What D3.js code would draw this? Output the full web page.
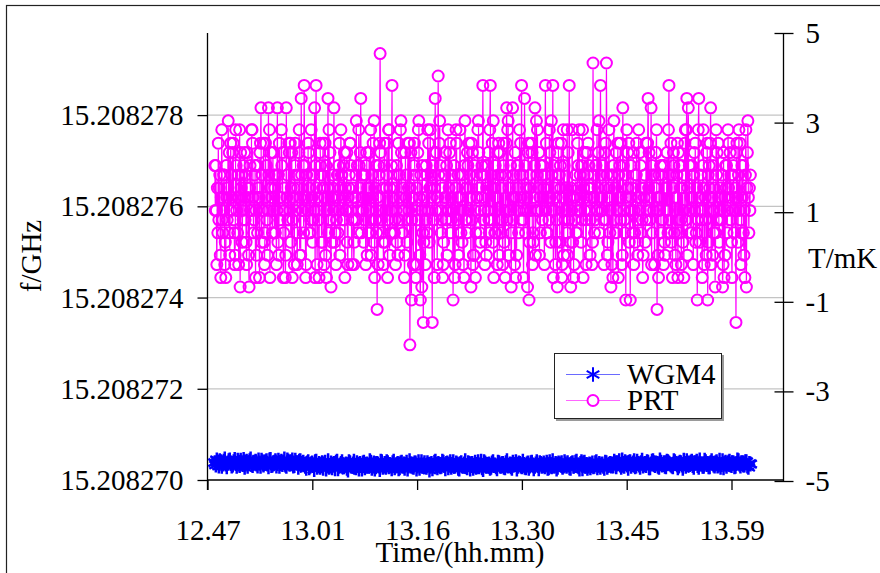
<!DOCTYPE html>
<html><head><meta charset="utf-8">
<script src="https://cdn.jsdelivr.net/npm/d3@7"></script>
<style>
html,body{margin:0;padding:0;background:#fff;}
svg{display:block;}
text{font-family:"Liberation Serif","Times New Roman",serif;fill:#000;}
</style>
</head><body>
<svg id="chart" width="880" height="573"></svg>
<script>
// ---- data ----
const xTickLabels = ["12.47","13.01","13.16","13.30","13.45","13.59"];
const leftTicks = [15.208270, 15.208272, 15.208274, 15.208276, 15.208278];
const rightTicks = [-5, -3, -1, 1, 3, 5];
// sampling window expressed in x-tick intervals (first/last sample)
const timeStart = 0.07, timeEnd = 5.18;
const seriesNames = ["WGM4", "PRT"];

// PRT temperature, mK (right axis)
const prtT = [
2.04,1.04,2.04,1.04,-0.17,1.54,0.54,2.54,0.83,1.54,1.83,0.04,-0.46,1.33,2.84,0.83,0.54,1.04,1.83,1.83,-0.17,0.33,-0.46,2.04,1.33,0.83,1.54,3.04,0.54,2.33,0.04,1.04,2.54,1.04,1.83,1.33,2.33,2.54,0.83,0.54,-0.17,0.04,2.84,2.04,1.04,1.33,0.54,1.83,-0.17,1.33,2.84,-0.67,2.33,1.54,1.83,0.33,1.04,0.83,2.04,1.33,
2.33,0.83,1.83,0.33,-0.17,2.33,1.54,1.33,0.04,-0.67,1.54,2.04,1.04,1.04,2.84,2.84,2.54,1.33,0.54,0.83,1.83,2.04,-0.46,1.04,0.04,2.04,0.54,1.33,1.54,1.33,-0.46,2.33,2.54,3.33,0.33,1.83,1.04,1.04,2.54,0.33,-0.17,0.54,2.54,1.33,2.04,0.83,0.04,1.04,3.33,1.83,2.84,-0.46,1.54,2.33,1.54,1.33,0.54,2.33,1.04,1.83,
0.54,1.54,0.54,1.83,-0.17,1.04,3.33,0.33,1.83,0.04,2.54,0.83,1.33,1.33,2.84,2.04,2.33,1.04,-0.46,0.54,1.54,1.04,-0.46,0.04,3.33,1.33,1.83,0.83,0.83,2.54,2.33,1.04,2.54,0.33,1.54,2.33,-0.46,0.83,1.33,1.54,-0.17,2.04,2.54,1.83,1.04,0.54,-0.17,1.54,1.83,2.33,2.84,0.04,1.33,0.04,3.54,1.83,1.04,1.04,2.04,0.54,
3.83,2.04,1.33,-0.46,-0.17,1.83,1.33,1.04,2.54,2.33,0.54,1.54,0.54,0.83,2.84,1.83,1.33,0.33,0.83,1.83,1.04,3.33,-0.46,2.04,3.83,1.54,-0.17,1.04,1.33,0.83,-0.46,2.33,2.54,2.04,1.83,0.33,0.33,1.54,2.54,1.54,-0.17,1.33,2.54,0.04,2.04,-0.46,1.04,1.54,3.54,0.54,2.84,0.83,2.33,0.83,-0.67,1.33,0.33,1.83,1.54,1.04,
3.33,0.33,1.33,0.54,-0.17,0.83,1.33,1.83,0.54,2.04,1.04,2.54,0.04,1.54,2.84,1.83,1.83,1.33,0.83,2.04,0.83,2.33,-0.46,1.54,1.04,1.04,2.33,0.33,-0.17,1.33,1.54,1.83,2.54,2.54,2.04,1.04,-0.17,0.83,1.54,1.33,-0.17,0.33,0.83,1.33,1.83,3.04,0.83,2.04,0.54,1.04,2.84,2.04,1.54,2.33,3.54,0.54,1.33,1.04,1.83,1.04,
0.33,1.83,0.83,1.83,-0.17,2.04,2.33,0.04,1.54,0.54,1.04,2.33,1.54,0.54,2.84,0.04,0.83,1.83,1.33,2.54,0.33,3.04,-0.46,1.54,0.83,2.04,0.54,-1.17,1.33,-0.17,2.04,1.83,2.54,4.54,2.33,0.83,1.04,0.54,1.54,0.33,-0.17,2.04,2.54,0.33,1.04,1.54,1.83,2.54,-0.46,0.83,2.84,2.84,0.04,1.54,0.54,1.04,2.04,3.83,0.54,1.33,
1.33,1.54,0.54,0.83,-0.17,1.04,2.04,0.33,1.83,0.04,2.54,0.83,1.83,1.33,2.84,3.04,2.33,1.04,0.54,0.54,1.54,1.04,-0.46,0.04,2.33,1.33,1.83,0.33,0.83,2.54,1.54,1.04,2.54,-1.96,1.54,2.33,-0.96,0.83,1.33,1.33,-0.17,2.04,2.54,1.83,1.04,-0.46,-0.17,1.54,0.83,2.33,2.84,3.04,1.33,0.04,-0.96,1.83,1.04,-0.67,2.04,0.54,
-1.46,0.33,1.33,1.04,-0.17,0.83,2.04,1.83,0.54,2.84,1.04,2.54,0.33,1.54,2.84,1.54,1.83,1.33,-1.46,2.04,0.83,0.83,-0.46,1.54,3.54,1.04,2.33,1.33,-0.17,1.33,4.04,1.83,2.54,3.04,2.04,1.04,0.54,0.83,1.54,-0.46,-0.17,0.33,1.83,1.33,1.83,2.33,0.83,2.04,0.04,1.04,2.84,1.04,1.54,2.33,2.54,0.54,1.33,0.83,1.83,1.04,
-0.96,1.04,2.04,-0.46,-0.17,1.54,2.84,2.54,0.83,1.33,1.83,0.04,0.54,1.33,2.84,1.83,0.54,1.04,0.33,1.83,-0.17,1.04,-0.46,2.04,3.04,0.83,1.54,0.83,0.54,2.33,2.04,1.04,2.54,1.54,1.83,1.33,-0.67,2.54,0.83,2.33,-0.17,0.04,0.04,2.04,1.04,-0.46,0.54,1.83,1.33,1.33,2.84,3.04,2.33,1.54,0.54,0.33,1.04,1.83,2.04,1.33,
3.83,1.83,0.83,1.04,-0.17,2.04,0.33,0.04,1.54,2.04,1.04,2.33,0.83,0.54,2.84,3.83,0.83,1.83,1.54,2.54,0.33,3.04,-0.46,1.54,0.54,2.04,0.54,1.33,1.33,-0.17,2.33,1.83,2.54,0.04,2.33,0.83,1.83,0.54,1.54,0.83,-0.17,2.04,2.54,0.33,1.04,-0.46,1.83,2.54,3.33,0.83,2.84,3.04,0.04,1.54,1.04,1.04,2.04,-0.67,0.54,1.33,
3.33,0.83,1.83,1.33,-0.17,2.33,-0.46,1.33,0.04,2.04,1.54,2.04,0.54,1.04,2.84,1.83,2.54,1.33,3.83,0.83,1.83,0.83,-0.46,1.04,3.54,2.04,0.54,1.04,1.54,1.33,-0.67,2.33,2.54,-0.96,0.33,1.83,1.54,1.04,2.54,2.33,-0.17,0.54,0.33,1.33,2.04,3.33,0.04,1.04,3.04,1.83,2.84,1.04,1.54,2.33,0.04,1.33,0.54,2.04,1.04,1.83,
0.83,2.04,1.33,1.54,-0.17,1.83,3.83,1.04,2.54,0.54,0.54,1.54,1.33,0.83,2.84,2.33,1.33,0.33,3.04,1.83,1.04,3.83,-0.46,2.04,1.04,1.54,-0.17,0.33,1.33,0.83,-0.67,2.33,2.54,1.83,1.83,0.33,2.04,1.54,2.54,-0.46,-0.17,1.33,2.84,0.04,2.04,0.83,1.04,1.54,1.54,0.54,2.84,0.04,2.33,0.83,3.83,1.33,0.33,-0.67,1.54,1.04,
2.84,0.33,1.33,-0.46,-0.17,0.83,1.33,1.83,0.54,0.54,1.04,2.54,2.04,1.54,2.84,1.04,1.83,1.33,0.33,2.04,0.83,2.84,-0.46,1.54,1.83,1.04,2.33,0.83,-0.17,1.33,2.33,1.83,2.54,1.54,2.04,1.04,0.04,0.83,1.54,1.33,-0.17,0.33,4.33,1.33,1.83,0.54,0.83,2.04,2.04,1.04,2.84,1.04,1.54,2.33,3.04,0.54,1.33,3.83,1.83,1.04,
1.33,1.04,2.04,0.83,-0.17,1.54,2.33,2.54,0.83,4.33,1.83,0.04,0.33,1.33,2.84,1.54,0.54,1.04,-0.67,1.83,-0.17,1.83,-0.46,2.04,3.04,0.83,1.54,0.54,0.54,2.33,1.04,1.04,2.54,-0.46,1.83,1.33,2.04,2.54,0.83,1.33,-0.17,0.04,3.33,2.04,1.04,0.83,0.54,1.83,-0.96,1.33,2.84,1.54,2.33,1.54,2.54,0.33,1.04,-0.96,2.04,1.33,
1.04,1.54,0.54,2.33,-0.17,1.04,0.54,0.33,1.83,1.83,2.54,0.83,0.04,1.33,2.84,1.33,2.33,1.04,2.04,0.54,1.54,0.83,-0.46,0.04,1.54,1.33,1.83,0.33,0.83,2.54,2.54,1.04,2.54,3.54,1.54,2.33,1.04,0.83,1.33,3.33,-0.17,2.04,0.54,1.83,1.04,1.83,-0.17,1.54,2.33,2.33,2.84,-1.17,1.33,0.04,-0.46,1.83,1.04,1.33,2.04,0.54,
0.83,1.83,0.83,2.04,-0.17,2.04,0.33,0.04,1.54,1.54,1.04,2.33,1.04,0.54,2.84,3.83,0.83,1.83,0.54,2.54,0.33,1.83,-0.46,1.54,2.33,2.04,0.54,0.04,1.33,-0.17,1.33,1.83,2.54,-0.46,2.33,0.83,2.04,0.54,1.54,0.83,-0.17,2.04,1.54,0.33,1.04,-0.46,1.83,2.54,2.84,0.83,2.84,3.54,0.04,1.54,3.33,1.04,2.04,1.04,0.54,1.33,
0.54,2.04,1.33,1.83,-0.17,1.83,2.33,1.04,2.54,0.33,0.54,1.54,-0.96,0.83,2.84,3.54,1.33,0.33,1.33,1.83,1.04,0.83,-0.46,2.04,2.84,1.54,-0.17,1.54,1.33,0.83,0.04,2.33,2.54,-0.96,1.83,0.33,2.04,1.54,2.54,3.33,-0.17,1.33,1.04,0.04,2.04,0.54,1.04,1.54,-0.67,0.54,2.84,1.83,2.33,0.83,2.54,1.33,0.33,0.83,1.54,1.04,
1.33,0.83,1.83,-0.67,-0.17,2.33,-0.46,1.33,0.04,2.04,1.54,2.04,0.54,1.04,2.84,1.54,2.54,1.33,2.33,0.83,1.83,0.33,-0.46,1.04,1.83,2.04,0.54,1.04,1.54,1.33,-1.46,2.33,2.54,1.33,0.33,1.83,2.84,1.04,2.54,0.83,-0.17,0.54,2.04,1.33,2.04,0.54,0.04,1.04,-0.46,1.83,2.84,-0.67,1.54,2.33,3.04,1.33,0.54,1.54,1.04,1.83
];

// WGM4 resonance frequency: offset above 15.208270 GHz, in units of 1e-8 GHz (left axis)
const wgm4Base = 15.208270;
const wgm4Off = [
38,33,44,39,31,42,40,30,35,41,46,35,29,37,42,44,36,31,33,40,45,36,30,43,39,32,43,38,34,45,
28,35,41,30,37,42,46,34,32,39,38,41,35,31,44,37,30,43,40,33,36,40,42,35,29,44,45,32,33,38,
39,42,31,36,43,30,37,41,34,39,46,33,30,44,41,35,35,40,44,31,32,43,38,37,28,41,42,33,36,39,
34,30,26,37,40,27,30,35,37,32,23,40,41,28,32,36,28,33,38,26,
35,39,24,31,42,28,31,37,27,34,36,25,39,41,25,30,33,36,40,29,
29,33,35,26,22,40,38,31,31,35,41,28,27,38,34,24,36,32,24,37,
39,27,30,35,33,30,42,39,26,33,37,24,29,36,35,31,23,41,40,28,
32,36,28,40,38,29,34,31,25,38,41,27,31,34,36,25,27,37,39,32,
30,26,33,39,24,31,42,35,35,29,28,37,37,24,31,40,26,33,40,30,
33,38,29,28,38,34,22,30,36,25,32,39,41,31,27,36,34,29,30,41,
39,32,25,36,37,27,33,40,28,34,40,30,31,37,35,26,24,33,38,31,
30,35,42,29,27,38,36,24,32,36,26,31,39,28,34,40,29,33,41,27,
23,40,37,30,31,34,35,26,28,37,40,32,33,29,25,39,38,31,30,35,
36,28,27,38,42,31,32,35,29,26,39,33,34,40,24,30,37,36,31,29,
41,34,28,27,35,37,26,31,38,39,33,25,30,35,40,32,25,38,36,30,
32,37,29,33,39,26,27,40,34,29,42,31,31,36,24,28,37,34,35,38,
28,31,40,35,30,38,33,27,26,36,38,30,32,39,41,33,29,24,36,40,
25,37,39,30,34,26,31,35,27,32,37,29,30,38,40,27,33,36,28,33,
35,30,26,39,38,28,32,34,36,31,
35,31,41,38,29,35,38,42,33,28,44,36,30,40,37,33,26,39,40,30,
34,37,42,29,31,41,36,33,28,38,43,31,35,36,32,40,39,27,27,35,
41,42,34,32,37,36,30,28,44,39,33,34,38,30,29,41,40,37,35,33,
31,29,42,40,36,35,27,31,39,38,33,26,43,36,30,42,37,33,34,39,
41,32,28,37,38,41,32,28,44,35,35,30,30,43,40,34,36,29,29,38,
42,36,33,31,38,40,31,33,43,28,34,42,27,35,39,30,36,39,41,34,
32,38,37,29,30,36,44,42,35,31,38,37,33,33,40,40,31,28,36,35
];
const wgm4F = wgm4Off.map(d => wgm4Base + d * 1e-8);

// ---- drawing ----
const FONT = 29;
const FF = '"Liberation Serif","Times New Roman",serif';
const svg = d3.select("#chart");

svg.append("rect").attr("x", 6.5).attr("y", 5.5).attr("width", 900).attr("height", 600)
  .attr("fill", "none").attr("stroke", "#222").attr("stroke-width", 1.2);

const plotLeft = 207.5, plotRight = 783.5;
const x = d3.scaleLinear().domain([0, xTickLabels.length - 1]).range([207.5, 731.5]);
const yL = d3.scaleLinear().domain([15.208270, 15.2082798]).range([480, 33]);
const yR = d3.scaleLinear().domain([-5, 5]).range([481, 33]);

// gridlines (left axis)
svg.append("g").selectAll("line").data(leftTicks.slice(1)).join("line")
  .attr("x1", plotLeft).attr("x2", plotRight)
  .attr("y1", d => yL(d)).attr("y2", d => yL(d))
  .attr("stroke", "#c4c4c4").attr("stroke-width", 1.3);

function styleText(sel) {
  sel.attr("font-family", null).style("font-family", FF).style("font-size", FONT + "px").attr("fill", "#000");
}

// left axis
const gL = svg.append("g").attr("transform", `translate(${plotLeft},0)`)
  .call(d3.axisLeft(yL).tickValues(leftTicks).tickFormat(d => d.toFixed(6)).tickSize(10).tickPadding(14));
gL.attr("font-family", null);
gL.select(".domain").remove();
gL.selectAll(".tick line").attr("stroke", "#000").attr("stroke-width", 1.3);
gL.selectAll(".tick text").call(styleText).attr("dy", "0.33em");
svg.append("line").attr("x1", plotLeft).attr("x2", plotLeft).attr("y1", 33).attr("y2", 490)
  .attr("stroke", "#000").attr("stroke-width", 1.3);

// bottom axis
const gB = svg.append("g").attr("transform", "translate(0,480)")
  .call(d3.axisBottom(x).tickValues(d3.range(xTickLabels.length)).tickFormat((d, i) => xTickLabels[i]).tickSize(10));
gB.attr("font-family", null);
gB.select(".domain").remove();
gB.selectAll(".tick line").attr("stroke", "#000").attr("stroke-width", 1.3);
gB.selectAll(".tick text").call(styleText).attr("y", 60).attr("dy", 0);
svg.append("line").attr("x1", plotLeft).attr("x2", plotRight).attr("y1", 480).attr("y2", 480)
  .attr("stroke", "#000").attr("stroke-width", 1.3);

// right axis
const gR = svg.append("g").attr("transform", `translate(${plotRight},0)`)
  .call(d3.axisRight(yR).tickValues(rightTicks).tickFormat(d => String(d)).tickSize(10).tickPadding(12));
gR.attr("font-family", null);
gR.select(".domain").remove();
gR.selectAll(".tick line").attr("x1", -9).attr("stroke", "#000").attr("stroke-width", 1.3);
gR.selectAll(".tick text").call(styleText).attr("dy", "0.33em");
svg.append("line").attr("x1", plotRight).attr("x2", plotRight).attr("y1", 33).attr("y2", 481)
  .attr("stroke", "#000").attr("stroke-width", 1.3);

// axis titles
svg.append("text").attr("transform", "translate(41,256) rotate(-90)").attr("text-anchor", "middle")
  .call(styleText).text("f/GHz");
svg.append("text").attr("x", 808).attr("y", 268).call(styleText).text("T/mK");
svg.append("text").attr("x", 460).attr("y", 562).attr("text-anchor", "middle")
  .call(styleText).text("Time/(hh.mm)");

// line with a gap at each symbol (line stops at the marker edge)
function gappedPath(pts, gap) {
  const p = d3.path();
  for (let i = 0; i < pts.length - 1; i++) {
    const [x0, y0] = pts[i], [x1, y1] = pts[i + 1];
    const dx = x1 - x0, dy = y1 - y0, len = Math.hypot(dx, dy);
    if (len <= 2 * gap) continue;
    const ux = dx / len, uy = dy / len;
    p.moveTo(x0 + ux * gap, y0 + uy * gap);
    p.lineTo(x1 - ux * gap, y1 - uy * gap);
  }
  return p.toString();
}

// WGM4 series
const wX = d3.scaleLinear().domain([0, wgm4F.length - 1]).range([x(timeStart), x(timeEnd)]);
const wLine = d3.line().x((d, i) => wX(i)).y(d => yL(d));
svg.append("path").datum(wgm4F).attr("d", wLine).attr("fill", "none")
  .attr("stroke", "#0000ff").attr("stroke-width", 1);
const ast = d3.symbol().type(d3.symbolAsterisk).size(160);
svg.append("g").selectAll("path").data(wgm4F).join("path")
  .attr("transform", (d, i) => `translate(${wX(i)},${yL(d)})`)
  .attr("d", ast).attr("fill", "none").attr("stroke", "#0000ff").attr("stroke-width", 2.5);

// PRT series
const R = 5.5;
const pX = d3.scaleLinear().domain([0, prtT.length - 1]).range([x(timeStart), x(timeEnd)]);
const prtPts = prtT.map((d, i) => [pX(i), yR(d)]);
svg.append("path").attr("d", gappedPath(prtPts, R + 1)).attr("fill", "none")
  .attr("stroke", "#ff00ff").attr("stroke-width", 1.2);
svg.append("g").selectAll("circle").data(prtT).join("circle")
  .attr("cx", (d, i) => pX(i)).attr("cy", d => yR(d)).attr("r", R)
  .attr("fill", "none").attr("stroke", "#ff00ff").attr("stroke-width", 2);

// legend
const lg = svg.append("g");
lg.append("rect").attr("x", 556).attr("y", 355).attr("width", 168).attr("height", 66).attr("fill", "#9a9a9a");
lg.append("rect").attr("x", 554.5).attr("y", 353.5).attr("width", 167).attr("height", 65)
  .attr("fill", "#fff").attr("stroke", "#222").attr("stroke-width", 1);
const rows = [{y: 374.5, c: "#0000ff", lc: "#6a6aff"}, {y: 400.5, c: "#ff00ff", lc: "#ff66ff"}];
rows.forEach((r, i) => {
  lg.append("line").attr("x1", 566).attr("x2", 620).attr("y1", r.y).attr("y2", r.y)
    .attr("stroke", r.lc).attr("stroke-width", 1);
  if (i === 0) {
    lg.append("path").attr("transform", `translate(593,${r.y})`)
      .attr("d", d3.symbol().type(d3.symbolAsterisk).size(150)).attr("fill", "none")
      .attr("stroke", r.c).attr("stroke-width", 2);
  } else {
    lg.append("circle").attr("cx", 593).attr("cy", r.y).attr("r", R)
      .attr("fill", "#fff").attr("stroke", r.c).attr("stroke-width", 2);
  }
  lg.append("text").attr("x", 627).attr("y", r.y + 9.5).call(styleText).text(seriesNames[i]);
});
</script>
</body></html>
